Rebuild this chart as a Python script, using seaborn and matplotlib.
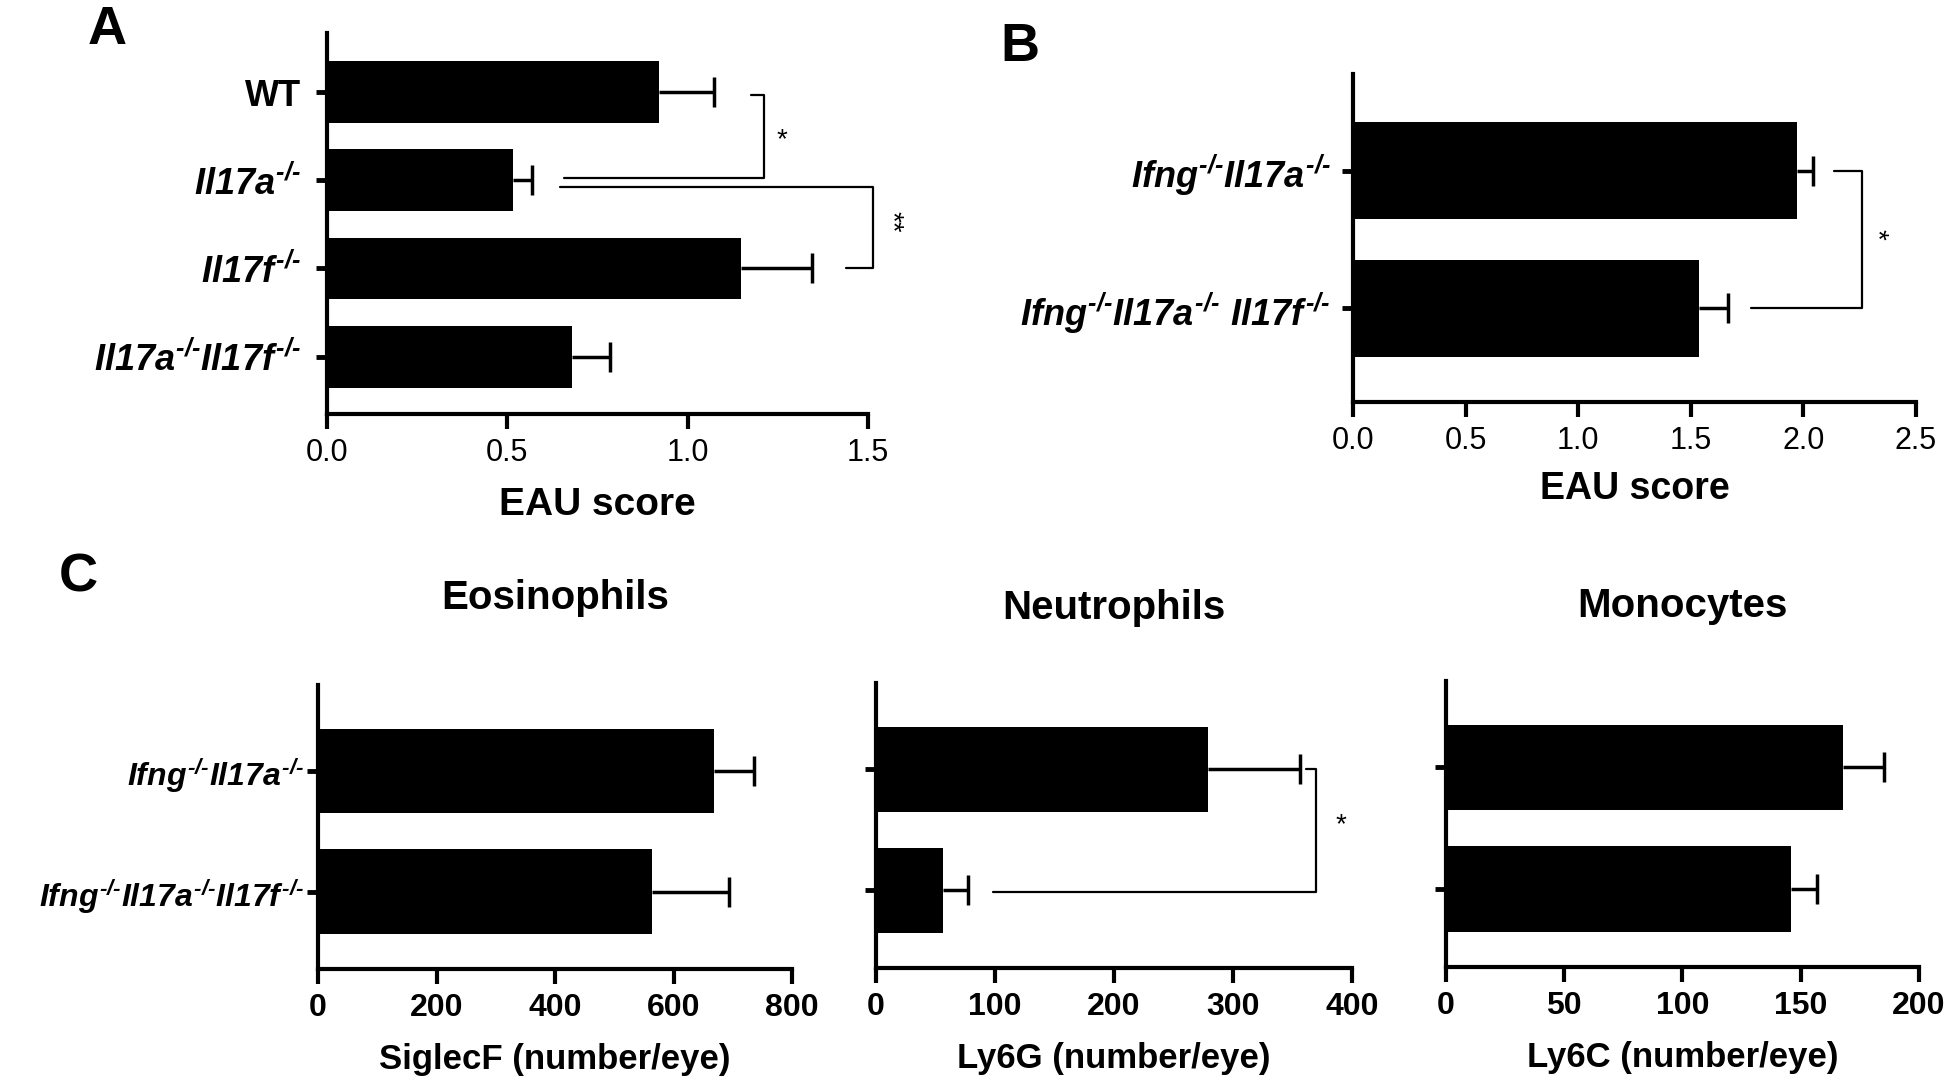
import numpy as np
import matplotlib
matplotlib.use("Agg")
import matplotlib.pyplot as plt
import seaborn as sns
import pandas as pd

# panel A: EAU score, single / double knockouts
a_labels = ["WT", r"$Il17a^{\text{-/-}}$", r"$Il17f^{\text{-/-}}$",
            r"$Il17a^{\text{-/-}}Il17f^{\text{-/-}}$"]
a_mean = [0.92, 0.515, 1.148, 0.68]
a_sem = [0.153, 0.054, 0.197, 0.105]

# panel B: EAU score, triple vs double knockouts
b_labels = [r"$Ifng^{\text{-/-}}Il17a^{\text{-/-}}$",
            r"$Ifng^{\text{-/-}}Il17a^{\text{-/-}}\ Il17f^{\text{-/-}}$"]
b_mean = [1.97, 1.539]
b_sem = [0.074, 0.127]

# panel C: cell counts per eye
c_labels = [r"$Ifng^{\text{-/-}}Il17a^{\text{-/-}}$",
            r"$Ifng^{\text{-/-}}Il17a^{\text{-/-}}Il17f^{\text{-/-}}$"]
eos_mean = [668, 564]
eos_sem = [68, 129]
neu_mean = [279, 56]
neu_sem = [77, 21]
mono_mean = [167.8, 145.8]
mono_sem = [17.2, 11.2]

sns.set_style("ticks")
plt.rcParams['font.family'] = ['Liberation Sans', 'DejaVu Sans']
plt.rcParams['mathtext.fontset'] = 'custom'
plt.rcParams['mathtext.it'] = 'Liberation Sans:bold:italic'
plt.rcParams['mathtext.rm'] = 'Liberation Sans:bold:italic'
plt.rcParams['mathtext.bf'] = 'Liberation Sans:bold:italic'
plt.rcParams['axes.linewidth'] = 3.0
for k in ['text.color', 'axes.edgecolor', 'axes.labelcolor', 'xtick.color', 'ytick.color']:
    plt.rcParams[k] = 'black'

fig = plt.figure(figsize=(19.5, 10.86), dpi=100)


def bars(rect, labels, mean, sem, xmax, xticks, ylim, bold_ticks, show_labels=True,
         fs_lab=22, fs_tick=22, ypad=4):
    ax = fig.add_axes(rect)
    df = pd.DataFrame({'group': labels, 'value': mean})
    sns.barplot(data=df, x='value', y='group', orient='h', color='black',
                saturation=1, width=0.7, errorbar=None, ax=ax, linewidth=0)
    eb = ax.errorbar(mean, np.arange(len(mean)), xerr=[np.zeros(len(sem)), sem],
                     fmt='none', ecolor='black', elinewidth=2.5, capsize=11, capthick=2.5)
    # keep only the outer cap (Prism style)
    for cap in eb[1]:
        if np.allclose(cap.get_xdata(), mean):
            cap.remove()
    ax.set_xlim(0, xmax)
    ax.set_ylim(*ylim)
    ax.set_xticks(xticks)
    ax.set_yticks(range(len(labels)))
    if show_labels:
        ax.set_yticklabels(labels, fontsize=fs_lab)
    else:
        ax.set_yticklabels([])
    for t in ax.get_yticklabels():
        if t.get_text() == 'WT':
            t.set_fontweight('bold')
    ax.set_ylabel('')
    sns.despine(ax=ax)
    ax.tick_params(axis='x', length=11, width=3, pad=6, labelsize=fs_tick)
    ax.tick_params(axis='y', length=8, width=3.5, pad=ypad)
    if bold_ticks:
        for t in ax.get_xticklabels():
            t.set_fontweight('bold')
    ax.set_facecolor('white')
    return ax


def bracket(ax, xs, ys):
    ax.plot(xs, ys, color='black', lw=1.6, clip_on=False)


# ---- A
axA = bars([0.1677, 0.6188, 0.2774, 0.3508], a_labels, a_mean, a_sem, 1.5,
           [0.0, 0.5, 1.0, 1.5], (3.65, -0.67), False, fs_lab=26, fs_tick=22, ypad=11)
axA.set_xticklabels(['0.0', '0.5', '1.0', '1.5'])
axA.set_xlabel('EAU score', fontsize=28, fontweight='bold', labelpad=14)
bracket(axA, [0.657, 1.212, 1.212, 1.177], [0.97, 0.97, 0.03, 0.03])
axA.text(1.26, 0.54, '*', fontsize=20, ha='center', va='center')
bracket(axA, [0.645, 1.513, 1.513, 1.438], [1.075, 1.075, 1.99, 1.99])
axA.text(1.565, 1.47, '**', fontsize=20, ha='center', va='center', rotation=-90)

# ---- B
axB = bars([0.6938, 0.6298, 0.2887, 0.3020], b_labels, b_mean, b_sem, 2.5,
           [0.0, 0.5, 1.0, 1.5, 2.0, 2.5], (1.68, -0.70), False, fs_lab=26, fs_tick=22, ypad=8)
axB.set_xticklabels(['0.0', '0.5', '1.0', '1.5', '2.0', '2.5'])
axB.set_xlabel('EAU score', fontsize=27, fontweight='bold', labelpad=11)
bracket(axB, [1.768, 2.26, 2.26, 2.135], [1.0, 1.0, 0.0, 0.0])
axB.text(2.323, 0.46, '*', fontsize=20, ha='center', va='center', rotation=-90)

# ---- C
c_ylim = (1.64, -0.71)
axC1 = bars([0.1631, 0.1077, 0.2431, 0.2615], c_labels, eos_mean, eos_sem, 800,
            [0, 200, 400, 600, 800], c_ylim, True, fs_lab=23, fs_tick=23, ypad=2)
axC1.set_xlabel('SiglecF (number/eye)', fontsize=25, fontweight='bold', labelpad=15)
axC1.set_title('Eosinophils', fontsize=29, fontweight='bold', pad=55)

axC2 = bars([0.4492, 0.1087, 0.2441, 0.2624], c_labels, neu_mean, neu_sem, 400,
            [0, 100, 200, 300, 400], c_ylim, True, show_labels=False, fs_tick=23)
axC2.set_xlabel('Ly6G (number/eye)', fontsize=25, fontweight='bold', labelpad=15)
axC2.set_title('Neutrophils', fontsize=29, fontweight='bold', pad=46)
bracket(axC2, [98.6, 369.5, 369.5, 361.6], [1.01, 1.01, 0.0, 0.0])
axC2.text(391, 0.46, '*', fontsize=20, ha='center', va='center')

axC3 = bars([0.7415, 0.1096, 0.2426, 0.2634], c_labels, mono_mean, mono_sem, 200,
            [0, 50, 100, 150, 200], c_ylim, True, show_labels=False, fs_tick=23)
axC3.set_xlabel('Ly6C (number/eye)', fontsize=25, fontweight='bold', labelpad=15)
axC3.set_title('Monocytes', fontsize=29, fontweight='bold', pad=46)

# panel letters
fig.text(107 / 1950, 1 - 30 / 1086, 'A', fontsize=39, fontweight='bold', ha='center', va='center')
fig.text(1020 / 1950, 1 - 47 / 1086, 'B', fontsize=39, fontweight='bold', ha='center', va='center')
fig.text(78 / 1950, 1 - 578 / 1086, 'C', fontsize=39, fontweight='bold', ha='center', va='center')

fig.savefig('out.png', dpi=100, facecolor='white')
